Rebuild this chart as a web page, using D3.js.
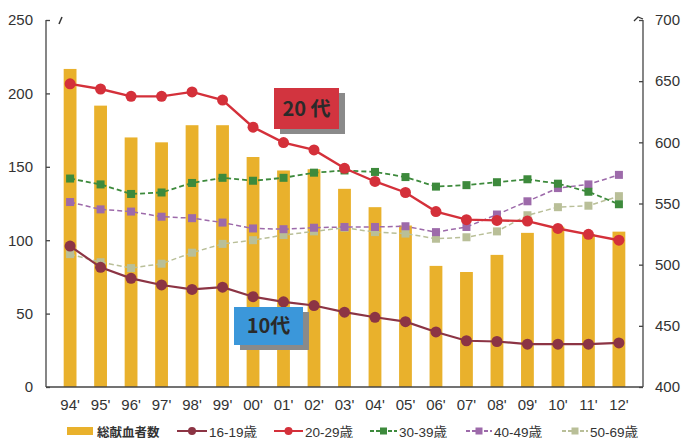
<!DOCTYPE html>
<html><head><meta charset="utf-8">
<script src="https://cdn.jsdelivr.net/npm/d3@7"></script>
<style>
body{margin:0;background:#fff;}
svg{display:block;}
text{font-family:"Liberation Sans",Arial,sans-serif;}
</style></head><body>
<svg id="c" width="682" height="438"></svg>
<script>
const years = ["94'","95'","96'","97'","98'","99'","00'","01'","02'","03'","04'","05'","06'","07'","08'","09'","10'","11'","12'"];
const total = [660,630,604,600,614,614,588,577,578,562,547,532,499,494,508,526,531,525,527];
const age16_19 = [96,81.5,74,69.5,66.5,68,61.5,58,55.5,51,47.5,44.5,37.5,31.5,31,29.2,29.2,29.2,30];
const age20_29 = [206.5,203,198,198,201,195.5,177,166.5,161.5,149,140,132.5,119.5,114,113.5,113,108,104,100];
const age30_39 = [142,138,131.5,132.5,139,142.5,140.5,142.5,146,147.5,146.5,143,136.5,137.5,139.5,141.5,138.5,133,124.5];
const age40_49 = [126,121,119.5,116,115,112,108,107.5,108.5,109,109,109.5,105.5,109,117.5,126.5,135.5,138,144.5];
const age50_69 = [90.5,85,81,84,91.5,97.5,100,103.5,106,108.5,105.5,104.5,101,102,106,117,122.5,123.5,130];
const leftTicks = [0,50,100,150,200,250];
const rightTicks = [400,450,500,550,600,650,700];
const legendLabels = ["総献血者数","16-19歳","20-29歳","30-39歳","40-49歳","50-69歳"];

const svg = d3.select("#c");
const L = 46, R = 643, T = 20, B = 387;
const x = d3.scaleBand().domain(years).range([L, R]).padding(0.58);
const xc = d => x(d) + x.bandwidth()/2;
const yL = d3.scaleLinear().domain([0,250]).range([B, T]);
const yR = d3.scaleLinear().domain([400,700]).range([B, T]);

const axisCol = "#444";
// bars
svg.append("g").selectAll("rect").data(total).join("rect")
  .attr("x", (d,i)=>x(years[i])).attr("width", x.bandwidth())
  .attr("y", d=>yR(d)).attr("height", d=>B - yR(d))
  .attr("fill", "#e9b12c");

// axes
const gl = svg.append("g").attr("transform",`translate(${L},0)`)
  .call(d3.axisLeft(yL).tickValues(leftTicks).tickSize(-4).tickPadding(13));
const gr = svg.append("g").attr("transform",`translate(${R},0)`)
  .call(d3.axisRight(yR).tickValues(rightTicks).tickSize(-4).tickPadding(12));
const gb = svg.append("g").attr("transform",`translate(0,${B})`)
  .call(d3.axisBottom(x).tickSize(0).tickPadding(12));
[gl,gr,gb].forEach(g=>{
  g.select(".domain").attr("stroke",axisCol).attr("stroke-width",1.3);
  g.selectAll(".tick line").attr("stroke",axisCol).attr("stroke-width",1.3);
  g.selectAll("text").attr("fill","#333").style("font-size","15px")
    .style("font-family","'Liberation Sans',Arial,sans-serif");
});
gl.select(".domain").attr("d",`M0,${T}V${B}`);
gr.select(".domain").attr("d",`M0,${T}V${B}`);
gb.select(".domain").attr("d",`M${L},0H${R}`);

// break marks
svg.append("path").attr("d",`M${L+13},${T+4}L${L+16},${T-3}`).attr("stroke","#333").attr("stroke-width",1.5).attr("fill","none");
svg.append("path").attr("d",`M${R-9},${T+1}L${R-5},${T-3}L${R},${T-1}`).attr("stroke","#333").attr("stroke-width",1.3).attr("fill","none");

const series = [
  {data:age50_69, color:"#b9bf98", dash:"5,3", shape:"sq", w:1.5},
  {data:age40_49, color:"#9d6aaa", dash:"5,3", shape:"sq", w:1.5},
  {data:age30_39, color:"#3d8a3c", dash:"5,3", shape:"sq", w:1.8},
  {data:age16_19, color:"#8c3444", dash:null, shape:"ci", w:2.2},
  {data:age20_29, color:"#d4303a", dash:null, shape:"ci", w:2.4},
];
const line = d3.line().x((d,i)=>xc(years[i])).y(d=>yL(d));
series.forEach(s=>{
  svg.append("path").attr("d", line(s.data)).attr("fill","none")
    .attr("stroke", s.color).attr("stroke-width", s.w)
    .attr("stroke-dasharray", s.dash);
  const g = svg.append("g");
  if (s.shape === "sq") {
    g.selectAll("rect").data(s.data).join("rect")
      .attr("x",(d,i)=>xc(years[i])-4).attr("y",d=>yL(d)-4)
      .attr("width",8).attr("height",8).attr("fill",s.color);
  } else {
    g.selectAll("circle").data(s.data).join("circle")
      .attr("cx",(d,i)=>xc(years[i])).attr("cy",d=>yL(d))
      .attr("r",5.5).attr("fill",s.color);
  }
});

// callout labels
function callout(x0,y0,w,h,fill,label){
  svg.append("rect").attr("x",x0+6).attr("y",y0+5).attr("width",w).attr("height",h).attr("fill","#8a8a8a");
  svg.append("rect").attr("x",x0).attr("y",y0).attr("width",w).attr("height",h).attr("fill",fill);
  svg.append("text").attr("x",x0+w/2).attr("y",y0+h/2+7).attr("text-anchor","middle")
    .style("font-family","'Noto Sans CJK JP',sans-serif").style("font-weight","bold")
    .style("font-size","20px").attr("fill","#2a2a2a").text(label);
}
callout(274,88,65,41,"#d2343f","20 代");
callout(234,307,69,38,"#3b97da","10代");

// legend
const ly = 431;
const lg = svg.append("g");
const legendItems = [
  {sx:67, ex:93, tx:97, type:"bar", color:"#e9b12c"},
  {sx:177, ex:207, tx:209, type:"ci", color:"#8c3444"},
  {sx:274, ex:303, tx:305, type:"ci", color:"#d4303a"},
  {sx:370, ex:397, tx:399, type:"sq", color:"#3d8a3c"},
  {sx:466, ex:492, tx:494, type:"sq", color:"#9d6aaa"},
  {sx:562, ex:588, tx:590, type:"sq", color:"#b9bf98"},
];
legendItems.forEach((it,i)=>{
  if (it.type==="bar") {
    lg.append("rect").attr("x",it.sx).attr("y",ly-4).attr("width",it.ex-it.sx).attr("height",8).attr("fill",it.color);
  } else {
    lg.append("line").attr("x1",it.sx).attr("x2",it.ex).attr("y1",ly).attr("y2",ly)
      .attr("stroke",it.color).attr("stroke-width",2)
      .attr("stroke-dasharray", it.type==="sq" ? "4,2" : null);
    const m=(it.sx+it.ex)/2;
    if (it.type==="ci") lg.append("circle").attr("cx",m).attr("cy",ly).attr("r",4).attr("fill",it.color);
    else lg.append("rect").attr("x",m-3.5).attr("y",ly-3.5).attr("width",7).attr("height",7).attr("fill",it.color);
  }
  lg.append("text").attr("x",it.tx).attr("y",ly+5.5).attr("fill","#333")
    .style("font-family","'Liberation Sans','Noto Sans CJK JP',sans-serif")
    .style("font-size", i===0 ? "12.5px" : "13.5px")
    .style("font-weight", i===0 ? "bold" : null)
    .text(legendLabels[i]);
});
</script>
</body></html>
